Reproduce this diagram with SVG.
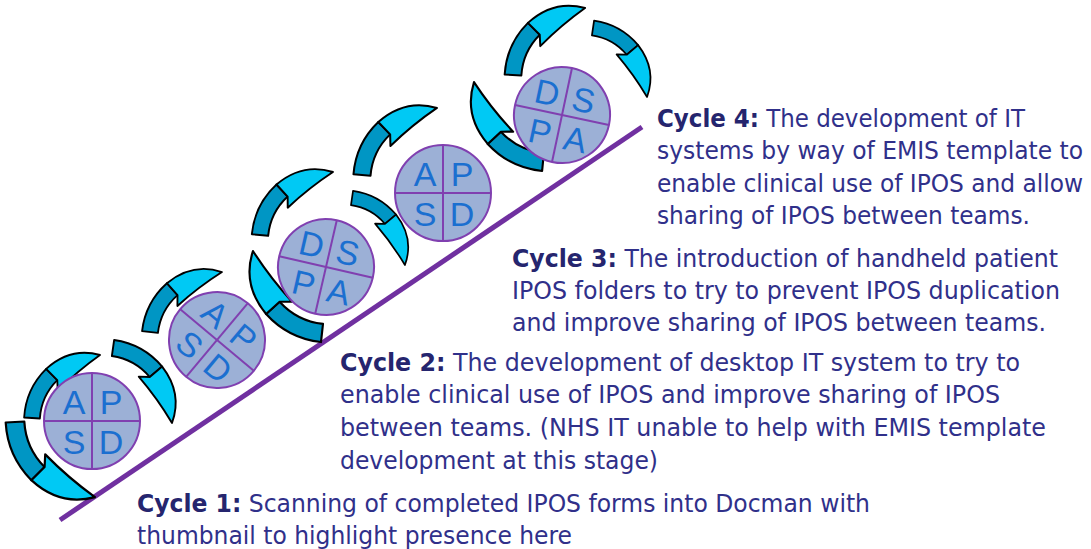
<svg xmlns="http://www.w3.org/2000/svg" xmlns:xlink="http://www.w3.org/1999/xlink" width="1091" height="549" viewBox="0 0 1091 549">
<style>
.disc{fill:#9cb0d6;stroke:#8040b0;stroke-width:2}
.cross{stroke:#8040b0;stroke-width:2}
.ltr{font-family:"Liberation Sans",Arial,sans-serif;font-size:34px;fill:#1b6fd0;text-anchor:middle;dominant-baseline:central}
.dark{fill:#0096c4;stroke:#000;stroke-width:2;stroke-linejoin:round}
.bright{fill:#00c9f4;stroke:#000;stroke-width:2;stroke-linejoin:round}
.txt{font-family:"DejaVu Sans Condensed","DejaVu Sans",sans-serif;font-size:25px;fill:#30308a}
.b{font-weight:bold;fill:#25256e}
</style>
<defs>
<g id="arw">
<path class="dark" d="M -5.86,-6.16 A 81 81 0 0 1 47.17,-28.45 L 47.77,-11.46 A 64 64 0 0 0 5.87,6.15 Z"/>
<path class="bright" d="M 47.17,-28.45 Q 82.59,-28.17 100,0 Q 70.5,-3.88 40.28,-2.65 L 47.77,-11.46 Z"/>
</g>
<g id="pdsa-apsd">
<circle class="disc" cx="0" cy="0" r="48"/>
<line class="cross" x1="-48" y1="0" x2="48" y2="0"/>
<line class="cross" x1="0" y1="-48" x2="0" y2="48"/>
<text class="ltr" x="-18" y="-19">A</text>
<text class="ltr" x="19" y="-19">P</text>
<text class="ltr" x="-18" y="21">S</text>
<text class="ltr" x="19" y="21">D</text>
</g>
<g id="pdsa-dspa">
<circle class="disc" cx="0" cy="0" r="48"/>
<line class="cross" x1="-48" y1="0" x2="48" y2="0"/>
<line class="cross" x1="0" y1="-48" x2="0" y2="48"/>
<text class="ltr" x="-19" y="-19">D</text>
<text class="ltr" x="18" y="-19">S</text>
<text class="ltr" x="-18" y="21">P</text>
<text class="ltr" x="18" y="21">A</text>
</g>
</defs>
<rect width="1091" height="549" fill="#fff"/>

<g id="connectors">
<line id="ramp" x1="60" y1="520" x2="642" y2="127" stroke="#7030a0" stroke-width="5"/>
<use xlink:href="#arw" transform="translate(32,418) rotate(-42.8) scale(0.927)"/>
<use xlink:href="#arw" transform="translate(113,348) rotate(51.8) scale(0.954)"/>
<use xlink:href="#arw" transform="translate(15,422) rotate(43.2) scale(1.097,-1.097)"/>
<use xlink:href="#arw" transform="translate(150,332) rotate(-39.8) scale(0.937)"/>
<use xlink:href="#arw" transform="translate(260,235) rotate(-40.8) scale(0.964)"/>
<use xlink:href="#arw" transform="translate(352,198) rotate(51.7) scale(0.854)"/>
<use xlink:href="#arw" transform="translate(322,333) rotate(-130.1) scale(1.072)"/>
<use xlink:href="#arw" transform="translate(362,175) rotate(-41.8) scale(1.006)"/>
<use xlink:href="#arw" transform="translate(513,75) rotate(-42.9) scale(0.984)"/>
<use xlink:href="#arw" transform="translate(593,28) rotate(51.9) scale(0.876)"/>
<use xlink:href="#arw" transform="translate(543,162) rotate(-130.8) scale(1.056)"/>
</g>

<g id="cycle1-pdsa"><use xlink:href="#pdsa-apsd" transform="translate(92,421)"/></g>
<g id="cycle2-pdsa"><use xlink:href="#pdsa-apsd" transform="translate(217,340) rotate(40)"/></g>
<g id="cycle3-pdsa"><use xlink:href="#pdsa-dspa" transform="translate(326,267) rotate(13)"/></g>
<g id="cycle4-pdsa"><use xlink:href="#pdsa-apsd" transform="translate(443,193)"/></g>
<g id="cycle5-pdsa"><use xlink:href="#pdsa-dspa" transform="translate(562,115) rotate(12)"/></g>

<g id="cycle4-text" class="txt">
<text x="657" y="127" textLength="368" lengthAdjust="spacingAndGlyphs"><tspan class="b">Cycle 4:</tspan> The development of IT</text>
<text x="657" y="159" textLength="426" lengthAdjust="spacingAndGlyphs">systems by way of EMIS template to</text>
<text x="657" y="192" textLength="426" lengthAdjust="spacingAndGlyphs">enable clinical use of IPOS and allow</text>
<text x="657" y="224" textLength="373" lengthAdjust="spacingAndGlyphs">sharing of IPOS between teams.</text>
</g>
<g id="cycle3-text" class="txt">
<text x="512" y="267" textLength="546" lengthAdjust="spacingAndGlyphs"><tspan class="b">Cycle 3:</tspan> The introduction of handheld patient</text>
<text x="512" y="299" textLength="548" lengthAdjust="spacingAndGlyphs">IPOS folders to try to prevent IPOS duplication</text>
<text x="512" y="331" textLength="534" lengthAdjust="spacingAndGlyphs">and improve sharing of IPOS between teams.</text>
</g>
<g id="cycle2-text" class="txt">
<text x="340" y="371" textLength="680" lengthAdjust="spacingAndGlyphs"><tspan class="b">Cycle 2:</tspan> The development of desktop IT system to try to</text>
<text x="340" y="403" textLength="660" lengthAdjust="spacingAndGlyphs">enable clinical use of IPOS and improve sharing of IPOS</text>
<text x="340" y="436" textLength="706" lengthAdjust="spacingAndGlyphs">between teams. (NHS IT unable to help with EMIS template</text>
<text x="340" y="469" textLength="318" lengthAdjust="spacingAndGlyphs">development at this stage)</text>
</g>
<g id="cycle1-text" class="txt">
<text x="137" y="512" textLength="733" lengthAdjust="spacingAndGlyphs"><tspan class="b">Cycle 1:</tspan> Scanning of completed IPOS forms into Docman with</text>
<text x="137" y="544" textLength="435" lengthAdjust="spacingAndGlyphs">thumbnail to highlight presence here</text>
</g>
</svg>
